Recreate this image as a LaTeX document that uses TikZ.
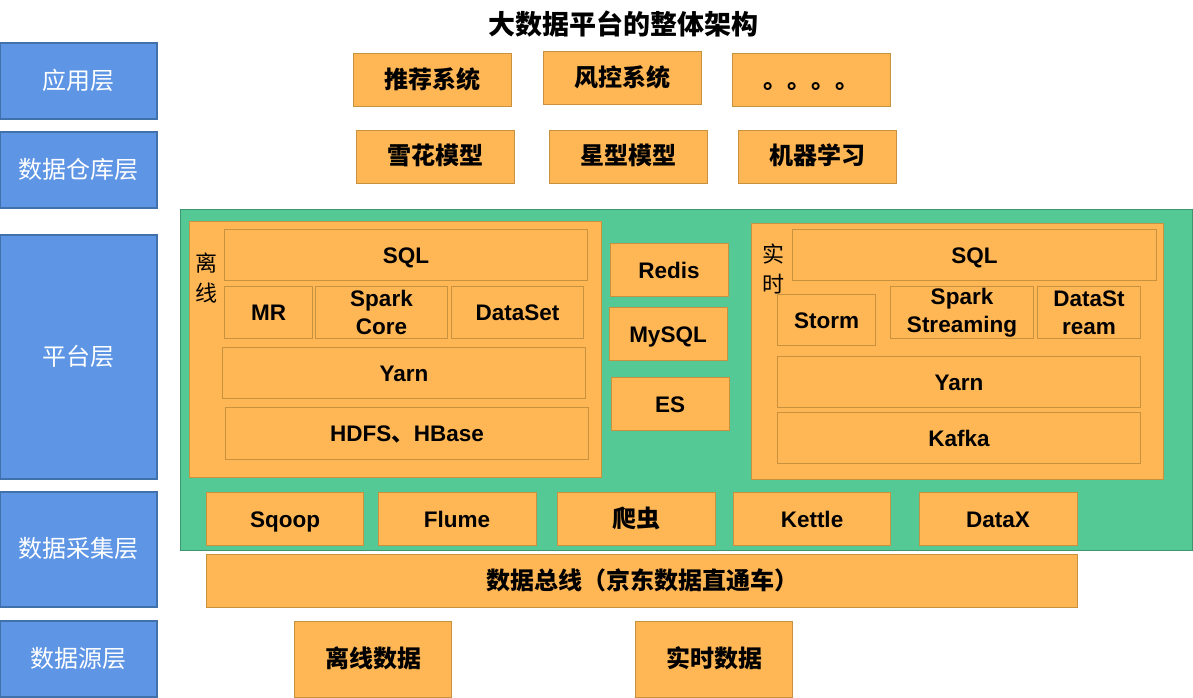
\documentclass[tikz,border=0pt]{standalone}
\usepackage{fontspec}
\setmainfont{Liberation Sans}
\newfontfamily\cjk{Noto Sans CJK SC}
\usetikzlibrary{positioning}
\definecolor{layerblue}{RGB}{94,149,229}
\definecolor{layerline}{RGB}{65,113,170}
\definecolor{boxorange}{RGB}{255,183,85}
\definecolor{boxline}{RGB}{200,145,61}
\definecolor{platgreen}{RGB}{84,201,149}
\definecolor{platline}{RGB}{61,150,110}

\begin{document}
\begin{tikzpicture}[x=1pt,y=-1pt,
    layer/.style={draw=layerline,fill=layerblue,line width=1.2pt,inner sep=0pt,minimum width=157pt,text=white,text height=19.2pt,text depth=2.4pt,font=\cjk\fontsize{24}{28}\selectfont},
    box/.style={draw=boxline,fill=boxorange,line width=0.9pt,inner sep=0pt,align=center,font=\bfseries\fontsize{22.5}{28}\selectfont},
    lbox/.style={box,text height=16pt,text depth=0pt},
    cbox/.style={box,text height=19.2pt,text depth=2.4pt,font=\cjk\bfseries\fontsize{24}{28}\selectfont},
    frame/.style={draw=boxline,fill=boxorange,line width=0.9pt,inner sep=0pt},
    tag/.style={align=center,inner sep=0pt,font=\cjk\fontsize{22}{30}\selectfont}]
    \useasboundingbox (0,0) rectangle (1193,698);
    % layers
    \node[layer,minimum height=76pt] (app) at (78.5,81) {应用层};
    \node[layer,minimum height=76pt] (dw) at (78.5,170) {数据仓库层};
    \node[layer,minimum height=244pt] (plat) at (78.5,357) {平台层};
    \node[layer,minimum height=115pt] (coll) at (78.5,549.5) {数据采集层};
    \node[layer,minimum height=76pt] (src) at (78.5,659) {数据源层};
    \node[text height=21.6pt,text depth=2.7pt,font=\cjk\bfseries\fontsize{27}{30}\selectfont] (title) at (623,25) {大数据平台的整体架构};
    % application
    \node[cbox,minimum width=158pt,minimum height=53pt] (rec) at (432,80) {推荐系统};
    \node[cbox,minimum width=158pt,minimum height=53pt] (risk) at (622,78) {风控系统};
    \node[cbox,minimum width=158pt,minimum height=53pt] (more) at (811,80) {。。。。};
    % warehouse
    \node[cbox,minimum width=158pt,minimum height=53pt] (snow) at (435,156.5) {雪花模型};
    \node[cbox,minimum width=158pt,minimum height=53pt] (star) at (628.5,156.5) {星型模型};
    \node[cbox,minimum width=158pt,minimum height=53pt] (ml) at (817,156.5) {机器学习};
    % platform
    \node[draw=platline,fill=platgreen,line width=0.9pt,inner sep=0pt,minimum width=1012pt,minimum height=341pt] (green) at (686,379.5) {};
    \node[frame,minimum width=412pt,minimum height=256pt] (off) at (395.5,349.5) {};
    \node[tag] (offtag) at (206,278) {离\\线};
    \node[lbox,minimum width=363pt,minimum height=51pt] (osql) at (406,255) {SQL};
    \node[lbox,minimum width=88pt,minimum height=52pt] (mr) at (268.5,312.5) {MR};
    \node[box,minimum width=132pt,minimum height=52pt] (core) at (381.5,312.5) {Spark\\Core};
    \node[lbox,minimum width=132pt,minimum height=52pt] (dset) at (517.5,312.5) {DataSet};
    \node[lbox,minimum width=363pt,minimum height=51pt] (oyarn) at (404,373) {Yarn};
    \node[lbox,minimum width=363pt,minimum height=52pt] (hdfs) at (407,433.5) {HDFS{\cjk 、}HBase};
    \node[lbox,minimum width=118pt,minimum height=53pt] (redis) at (669,270) {Redis};
    \node[lbox,minimum width=118pt,minimum height=53pt] (mysql) at (668,334) {MySQL};
    \node[lbox,minimum width=118pt,minimum height=53pt] (es) at (670,404) {ES};
    \node[frame,minimum width=412pt,minimum height=256pt] (rt) at (957.5,351.5) {};
    \node[tag] (rttag) at (773,269) {实\\时};
    \node[lbox,minimum width=364pt,minimum height=51pt] (rsql) at (974.5,255) {SQL};
    \node[lbox,minimum width=98pt,minimum height=51pt] (storm) at (826.5,320) {Storm};
    \node[box,minimum width=143pt,minimum height=52pt] (sstream) at (962,312.5) {Spark\\Streaming};
    \node[box,minimum width=103pt,minimum height=52pt] (dstream) at (1089,312.5) {DataSt\\ream};
    \node[lbox,minimum width=363pt,minimum height=51pt] (ryarn) at (959,382) {Yarn};
    \node[lbox,minimum width=363pt,minimum height=51pt] (kafka) at (959,438) {Kafka};
    % collection
    \node[lbox,minimum width=157pt,minimum height=53pt] (sqoop) at (285,519) {Sqoop};
    \node[lbox,minimum width=158pt,minimum height=53pt] (flume) at (457,519) {Flume};
    \node[cbox,minimum width=158pt,minimum height=53pt] (crawl) at (636.5,519) {爬虫};
    \node[lbox,minimum width=157pt,minimum height=53pt] (kettle) at (812,519) {Kettle};
    \node[lbox,minimum width=158pt,minimum height=53pt] (datax) at (998,519) {DataX};
    \node[cbox,minimum width=871pt,minimum height=53pt] (bus) at (642,581) {数据总线（京东数据直通车）};
    % sources
    \node[cbox,minimum width=157pt,minimum height=76pt] (offdata) at (373,659) {离线数据};
    \node[cbox,minimum width=157pt,minimum height=76pt] (rtdata) at (714,659.5) {实时数据};
\end{tikzpicture}
\end{document}
